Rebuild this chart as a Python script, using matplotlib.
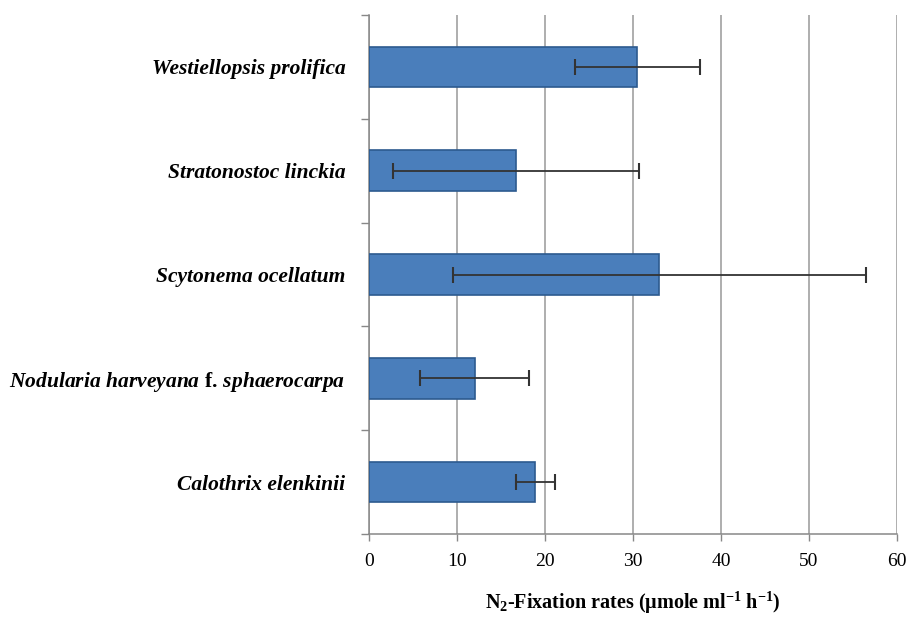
import matplotlib
matplotlib.use("Agg")
import matplotlib.pyplot as plt
import numpy as np

species = [
    "Westiellopsis prolifica",
    "Stratonostoc linckia",
    "Scytonema ocellatum",
    r"$\mathit{Nodularia\ harveyana}\ \mathrm{f.}\,\mathit{sphaerocarpa}$",
    "Calothrix elenkinii",
]
rates = [30.5, 16.7, 33.0, 12.0, 18.9]
errors = [7.1, 14.0, 23.5, 6.2, 2.2]
xticks = [0, 10, 20, 30, 40, 50, 60]

plt.rcParams["font.family"] = "Liberation Serif"
plt.rcParams["mathtext.fontset"] = "custom"
plt.rcParams["mathtext.rm"] = "Liberation Serif:bold"
plt.rcParams["mathtext.it"] = "Liberation Serif:bold:italic"
plt.rcParams["mathtext.bf"] = "Liberation Serif:bold"

fig = plt.figure(figsize=(9.1, 6.18), dpi=100)
ax = fig.add_axes([369/910, 1-534/618, (897-369)/910, (534-15)/618])

ypos = np.arange(len(species))
ax.barh(ypos, rates, height=0.39, color="#4a7ebb", edgecolor="#2c5a8f", linewidth=1.2, zorder=3)
ax.errorbar(rates, ypos, xerr=errors, fmt="none", ecolor="#333333", elinewidth=1.3,
            capsize=6, capthick=1.5, zorder=4)

ax.set_xlim(0, 60)
ax.set_ylim(4.5, -0.5)
ax.set_xticks(xticks)
ax.set_xticklabels([str(t) for t in xticks], fontsize=14)
ax.grid(axis="x", color="#999999", linewidth=1.1, zorder=0)
ax.set_axisbelow(True)

ax.set_yticks(ypos)
ax.set_yticklabels(species, fontsize=15.5, fontweight="bold", fontstyle="italic")
ax.set_yticks(np.arange(-0.5, 5.0, 1.0), minor=True)
ax.tick_params(axis="y", which="major", length=0, pad=17)
ax.tick_params(axis="y", which="minor", length=6, width=1, color="#888888", direction="out")
ax.tick_params(axis="x", which="major", length=5, width=1, color="#888888", direction="out", pad=9)

for s in ["top", "right"]:
    ax.spines[s].set_visible(False)
ax.spines["left"].set_color("#888888")
ax.spines["bottom"].set_color("#888888")
ax.spines["left"].set_linewidth(1.1)
ax.spines["bottom"].set_linewidth(1.1)

ax.set_xlabel(r"N$_2$-Fixation rates (µmole ml$^{-1}$ h$^{-1}$)", fontsize=14.5,
              fontweight="bold", labelpad=14)

fig.savefig("out.png", dpi=100, facecolor="white")
